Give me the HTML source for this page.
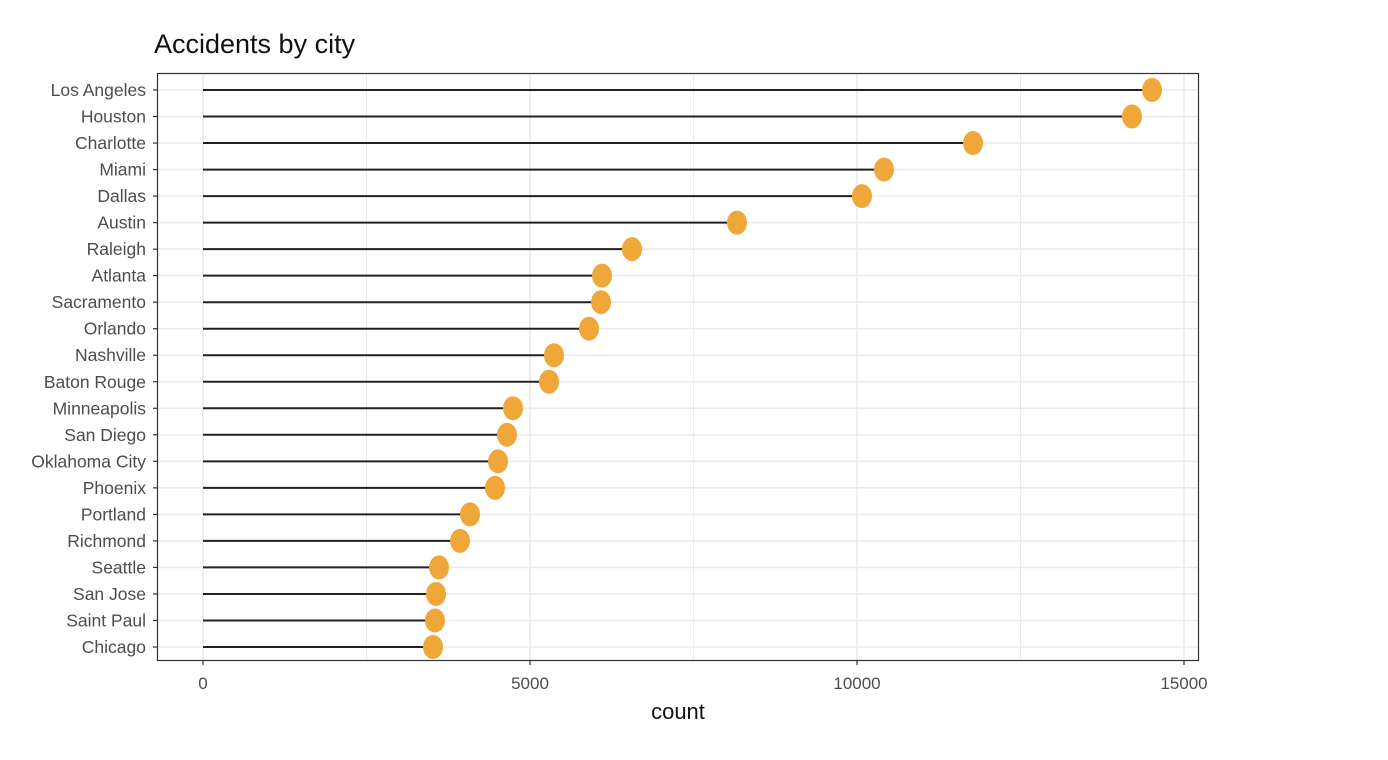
<!DOCTYPE html>
<html><head><meta charset="utf-8"><style>
body{margin:0;background:#fff;}
svg{display:block;font-family:"Liberation Sans",Arial,sans-serif;}
</style></head><body>
<svg id="c" width="1388" height="760">
<text x="154" y="53" font-size="27" fill="#111">Accidents by city</text>
<text x="678" y="719" font-size="22" fill="#111" text-anchor="middle">count</text>
<g id="grid"></g><g id="marks"></g><g id="axes"></g>
<rect x="157.5" y="73.5" width="1041" height="587" fill="none" stroke="#333" stroke-width="1.2"/>
</svg>
<script>
const cities=["Los Angeles","Houston","Charlotte","Miami","Dallas","Austin","Raleigh","Atlanta","Sacramento","Orlando","Nashville","Baton Rouge","Minneapolis","San Diego","Oklahoma City","Phoenix","Portland","Richmond","Seattle","San Jose","Saint Paul","Chicago"];
const counts=[14511,14205,11774,10413,10076,8165,6560,6101,6086,5902,5367,5291,4740,4648,4511,4465,4083,3930,3609,3563,3547,3517];
const xTicks=[0,5000,10000,15000];
const NS="http://www.w3.org/2000/svg";
const x=v=>203+v*327/5000;
const y=i=>90+i*(647-90)/21;
function mk(t,a,p){const e=document.createElementNS(NS,t);for(const k in a)e.setAttribute(k,a[k]);p.appendChild(e);return e;}
const grid=document.getElementById('grid'),marks=document.getElementById('marks'),axes=document.getElementById('axes');
for(let v=0;v<=15000;v+=2500){const g=mk('line',{x1:x(v),x2:x(v),y1:74,y2:660,stroke:'#ebebeb','stroke-width':v%5000?1:1.6},grid);

}
cities.forEach((c,i)=>{
const g=mk('line',{x1:158,x2:1198,y1:y(i),y2:y(i),stroke:'#ebebeb','stroke-width':1.6},grid);


const l=mk('line',{x1:x(0),x2:x(counts[i]),y1:y(i),y2:y(i),stroke:'#222','stroke-width':2},marks);


const d=mk('ellipse',{cx:x(counts[i]),cy:y(i),rx:10,ry:12,fill:'#EFA73A'},marks);


const tk=mk('line',{x1:153,x2:157,y1:y(i),y2:y(i),stroke:'#333','stroke-width':1.2},axes);


const t=mk('text',{x:146,y:y(i)+6,'font-size':17.5,fill:'#4d4d4d','text-anchor':'end'},axes);t.textContent=c;


});
xTicks.forEach(v=>{
const tk=mk('line',{x1:x(v),x2:x(v),y1:661,y2:665,stroke:'#333','stroke-width':1.2},axes);


const t=mk('text',{x:x(v),y:689,'font-size':17,fill:'#4d4d4d','text-anchor':'middle'},axes);t.textContent=v;


});
</script>
</body></html>
